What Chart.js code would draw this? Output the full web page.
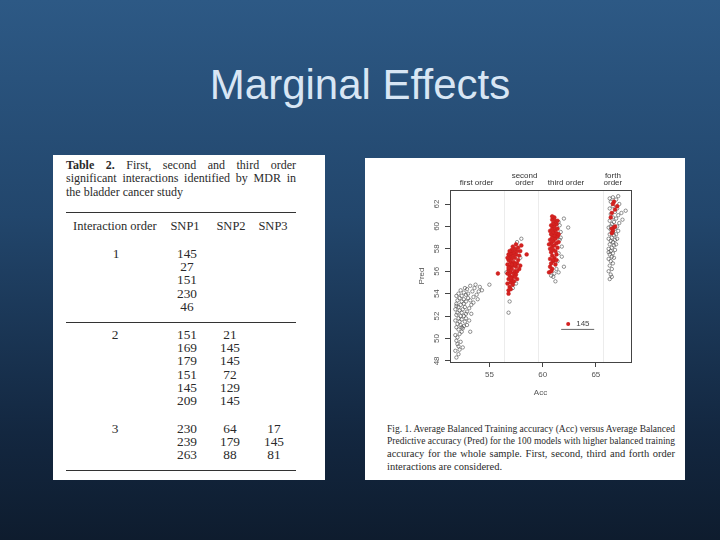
<!DOCTYPE html>
<html><head><meta charset="utf-8">
<script src="https://cdn.jsdelivr.net/npm/chart.js@4/dist/chart.umd.min.js"></script>
<style>
html,body{margin:0;padding:0;}
body{width:720px;height:540px;overflow:hidden;position:relative;
background:linear-gradient(180deg,#2d5985 0%,#22466c 40%,#132740 80%,#0e1c2e 100%);}
#title{position:absolute;left:0;width:720px;top:61px;text-align:center;color:#d8e6f4;
font-family:"Liberation Sans",Arial,sans-serif;font-size:42px;}
.panel{position:absolute;background:#fff;}
.t{position:absolute;font-family:"Liberation Serif","DejaVu Serif",serif;color:#2a2a2a;white-space:nowrap;}
.jl{position:absolute;font-family:"Liberation Serif",serif;color:#2a2a2a;white-space:nowrap;transform-origin:0 50%;}
.rule{position:absolute;background:#333;height:1px;}
</style></head><body>
<div id="title">Marginal Effects</div>
<div class="panel" style="left:53px;top:155px;width:272px;height:325px;"></div>
<div class="panel" style="left:365px;top:158px;width:320px;height:322px;"></div>
<div id="tbl"></div>
<canvas id="c" width="320" height="242" style="position:absolute;left:365px;top:158px;"></canvas>
<div id="cap"></div>
<script>
// ---------- data ----------
const orderLabels = ["first order", "second\norder", "third order", "forth\norder"];
const orderLabelAcc = [53.8, 58.3, 62.2, 66.6];
const xTickValues = [55, 60, 65];
const yTickValues = [48, 50, 52, 54, 56, 58, 60, 62];
const separatorAcc = [56.4, 59.6, 65.7];

// open black circles (models without SNP 145)
const otherAcc = [
51.9,52.1,51.8,52.2,52.0,51.9,52.3,52.0,51.8,52.2,52.4,52.1,51.9,52.5,52.3,52.0,52.6,52.2,51.8,52.4,52.7,52.1,52.9,52.3,51.9,52.6,52.0,52.8,52.4,52.2,51.8,52.5,52.9,52.1,52.7,52.3,51.9,53.1,52.6,52.0,52.4,52.8,53.3,52.2,52.6,53.0,51.9,52.4,52.8,53.2,53.5,52.1,52.6,53.0,53.4,53.8,52.3,52.9,53.6,54.0,54.3,53.2,53.7,54.1,55.0,52.7,53.5,53.9,53.1,52.5,51.9,52.8,52.1,53.3,52.4,53.2,
58.0,56.9,56.8,57.2,57.5,56.6,57.9,57.6,
62.0,62.4,61.8,62.0,61.0,61.2,61.6,61.7,61.6,61.5,61.4,61.3,60.8,61.1,61.5,61.8,61.7,61.5,
66.3,66.4,66.2,66.5,66.3,66.6,66.4,66.2,66.5,66.7,66.3,66.6,66.4,66.8,66.2,66.5,66.7,66.3,66.9,66.6,66.4,66.8,66.2,67.0,66.5,66.7,66.3,66.9,66.6,67.1,66.4,66.8,66.2,67.0,66.5,66.7,67.2,66.3,66.9,66.6,67.1,66.4,66.8,67.4,66.3,67.0,66.6,67.2,66.4,66.9,66.6,67.1,66.3,67.8,67.5,66.5,66.2,66.4];
const otherPred = [
48.3,48.6,48.9,49.0,49.5,49.8,49.7,50.1,50.3,50.4,50.6,50.8,51.0,50.9,51.2,51.3,51.1,51.5,51.6,51.7,51.5,51.8,51.2,52.0,52.1,52.0,52.3,51.8,52.3,52.5,52.6,52.6,52.4,52.8,52.8,53.0,53.1,52.7,53.1,53.4,53.3,53.3,53.0,53.6,53.5,53.6,53.8,53.8,53.9,53.4,53.7,54.0,54.1,54.0,54.2,53.9,54.3,54.4,54.5,54.2,54.3,54.7,54.8,54.6,54.8,54.5,53.2,53.5,51.6,49.2,52.9,52.2,49.3,52.2,51.0,50.6,
58.9,53.3,52.3,54.5,54.9,55.9,57.2,58.6,
60.7,59.9,58.2,56.4,55.5,55.1,60.1,59.5,58.8,57.6,56.9,56.2,55.6,55.8,55.9,57.3,59.0,60.4,
55.3,55.7,56.0,56.2,56.5,56.7,56.9,57.1,57.3,57.2,57.5,57.6,57.8,57.9,58.0,58.1,58.3,58.4,58.4,58.6,58.7,58.8,58.9,58.9,59.0,59.2,59.3,59.3,59.5,59.6,59.7,59.8,59.9,60.0,60.2,60.4,60.3,60.5,60.7,60.8,61.0,61.1,61.3,61.2,61.6,61.6,61.8,62.0,62.2,62.4,62.6,62.7,62.5,61.4,60.6,55.5,57.7,60.0];

// filled red circles (models containing SNP 145)
const snp145Acc = [
56.8,56.9,56.7,57.0,56.8,57.1,56.9,57.2,56.7,57.0,57.3,56.8,57.1,57.4,56.9,57.2,56.7,57.5,57.0,57.3,56.8,57.6,57.1,56.9,57.4,57.7,57.2,56.8,57.0,57.5,57.3,57.8,57.1,57.6,56.9,57.4,57.9,57.2,57.7,58.0,57.5,56.8,57.0,57.3,57.5,57.8,57.6,57.9,57.4,56.7,57.1,55.8,58.5,57.2,56.8,57.0,57.6,57.4,
60.6,60.7,60.9,60.8,61.0,60.7,61.1,60.9,61.3,60.8,61.0,61.2,60.7,61.4,60.9,61.1,60.8,61.3,61.0,61.5,60.7,61.2,60.9,61.4,61.1,60.8,61.0,61.3,60.7,61.2,60.9,61.4,61.1,60.8,61.3,61.0,61.2,60.9,61.4,61.1,60.9,61.0,61.2,60.8,61.5,60.6,61.3,
66.7,67.0,66.5,66.7,66.5,66.6,66.8,66.4,66.6,66.8,66.5];
const snp145Pred = [
54.3,54.6,54.9,55.0,55.3,55.2,55.6,55.5,55.8,55.9,55.8,56.1,56.2,56.0,56.4,56.5,56.6,56.4,56.8,56.8,57.0,56.7,57.1,57.3,57.2,57.0,57.4,57.5,57.6,57.5,57.7,57.4,57.9,57.8,57.8,58.0,57.8,58.2,58.1,58.3,58.4,56.3,55.4,55.1,55.7,56.2,56.0,56.5,56.6,57.2,56.6,55.8,57.5,54.8,54.0,54.4,55.3,55.5,
55.9,56.4,56.2,56.7,56.9,57.1,57.2,57.4,57.5,57.7,57.9,57.8,58.0,58.1,58.2,58.3,58.5,58.5,58.7,58.6,58.8,58.9,59.0,59.1,59.2,59.3,59.5,59.4,59.6,59.7,59.8,59.8,60.0,60.1,60.2,60.3,60.5,60.6,60.5,60.8,60.9,57.0,56.6,56.0,59.3,58.4,57.0,
62.2,61.8,61.2,59.9,59.8,59.6,60.0,60.8,62.0,61.5,59.4];

const legendLabel = "145";
const legendAcc = 62.4, legendPred = 51.3;

// table data
const tableCaption = ["Table 2.", " First, second and third order", "significant interactions identified by MDR in", "the bladder cancer study"];
const tableHeader = ["Interaction order", "SNP1", "SNP2", "SNP3"];
const order1Snp1 = ["145","27","151","230","46"];
const order2Snp1 = ["151","169","179","151","145","209"];
const order2Snp2 = ["21","145","145","72","129","145"];
const order3Snp1 = ["230","239","263"];
const order3Snp2 = ["64","179","88"];
const order3Snp3 = ["17","145","81"];

const captionLines = ["Fig. 1.  Average Balanced Training accuracy (Acc) versus Average Balanced",
 "Predictive accuracy (Pred) for the 100 models with higher balanced training",
 "accuracy for the whole sample. First, second, third and forth order",
 "interactions are considered."];

// ---------- table (HTML) ----------
const tbl = document.getElementById('tbl');
function put(txt, x, y, opts={}) {
  const d = document.createElement('div');
  d.className = 't';
  d.textContent = txt;
  d.style.fontSize = (opts.size || 11.6) + 'px';
  d.style.lineHeight = '12px';
  d.style.top = (y - 6) + 'px';
  if (opts.bold) d.style.fontWeight = 'bold';
  if (opts.center) { d.style.left = (x - 20) + 'px'; d.style.width = '40px'; d.style.textAlign = 'center'; }
  else d.style.left = x + 'px';
  if (opts.sx) { d.style.transform = 'scaleX(' + opts.sx + ')'; }
  tbl.appendChild(d);
}
// a single justified line: spread words to width w, shrink horizontally if too long
function justLine(parent, html, x, y, w, size, lh, last) {
  const d = document.createElement('div');
  d.className = 'jl';
  d.innerHTML = html;
  d.style.left = x + 'px'; d.style.top = (y - lh / 2) + 'px';
  d.style.fontSize = size + 'px'; d.style.lineHeight = lh + 'px';
  parent.appendChild(d);
  const nat = d.getBoundingClientRect().width;
  if (nat > w) { d.style.transform = 'scaleX(' + (w / nat) + ')'; }
  else if (!last) {
    const gaps = (d.textContent.match(/ +/g) || []).length;
    if (gaps) d.style.wordSpacing = ((w - nat) / gaps) + 'px';
  }
  return d;
}
justLine(tbl, '<b>' + tableCaption[0] + '</b>' + tableCaption[1], 66, 164.5, 230, 12, 12);
justLine(tbl, tableCaption[2], 66, 178, 230, 12, 12);
justLine(tbl, tableCaption[3], 66, 191.5, 230, 12, 12, true);
function rule(x, y, w) { const r = document.createElement('div'); r.className = 'rule';
  r.style.left = x + 'px'; r.style.top = y + 'px'; r.style.width = w + 'px'; tbl.appendChild(r); }
rule(66, 212, 230); rule(66, 322, 230); rule(66, 470, 230);
put(tableHeader[0], 73, 226, {size: 12.5});
put(tableHeader[1], 185, 226, {size: 12.5, center: true});
put(tableHeader[2], 231, 226, {size: 12.5, center: true});
put(tableHeader[3], 273, 226, {size: 12.5, center: true});
const colX = [187, 230, 274], rowH = 13.2;
const numOpts = {center: true, sx: 1.15};
put("1", 116, 255, numOpts);
order1Snp1.forEach((v, i) => put(v, colX[0], 255 + i * rowH, numOpts));
put("2", 115, 336, numOpts);
order2Snp1.forEach((v, i) => put(v, colX[0], 336 + i * rowH, numOpts));
order2Snp2.forEach((v, i) => put(v, colX[1], 336 + i * rowH, numOpts));
put("3", 115, 430, numOpts);
order3Snp1.forEach((v, i) => put(v, colX[0], 430 + i * rowH, numOpts));
order3Snp2.forEach((v, i) => put(v, colX[1], 430 + i * rowH, numOpts));
order3Snp3.forEach((v, i) => put(v, colX[2], 430 + i * rowH, numOpts));

// caption
const cap = document.getElementById('cap');
captionLines.forEach((l, i) => justLine(cap, l, 387, 428 + i * 12.7, 288, 10.5, 11, i === captionLines.length - 1));

// ---------- chart ----------
const rPlot = {
  id: 'rPlot',
  beforeDatasetsDraw(chart) {
    const {ctx, chartArea: a, scales: {x, y}} = chart;
    ctx.save();
    ctx.strokeStyle = '#ececec'; ctx.lineWidth = 1;
    separatorAcc.forEach(v => { const px = Math.round(x.getPixelForValue(v)) + 0.5;
      ctx.beginPath(); ctx.moveTo(px, a.top); ctx.lineTo(px, a.bottom); ctx.stroke(); });
    ctx.restore();
  },
  afterDraw(chart) {
    const {ctx, chartArea: a, scales: {x, y}} = chart;
    ctx.save();
    ctx.strokeStyle = '#444'; ctx.lineWidth = 1;
    ctx.strokeRect(Math.round(a.left) + 0.5, Math.round(a.top) + 0.5, Math.round(a.right - a.left), Math.round(a.bottom - a.top));
    ctx.fillStyle = '#555';
    ctx.font = '8px "Liberation Sans", Arial, sans-serif';
    ctx.textAlign = 'center'; ctx.textBaseline = 'middle';
    yTickValues.forEach(v => { ctx.save(); ctx.translate(a.left - 13, y.getPixelForValue(v));
      ctx.rotate(-Math.PI / 2); ctx.fillText(String(v), 0, 0); ctx.restore(); });
    ctx.save(); ctx.translate(a.left - 28, (a.top + a.bottom) / 2); ctx.rotate(-Math.PI / 2);
    ctx.fillText('Pred', 0, 0); ctx.restore();
    ctx.fillText('Acc', (a.left + a.right) / 2, a.bottom + 31);
    ctx.fillStyle = '#333';
    orderLabels.forEach((t, i) => { const lines = t.split('\n'); const px = x.getPixelForValue(orderLabelAcc[i]);
      lines.forEach((l, j) => ctx.fillText(l, px, a.top - 7 - (lines.length - 1 - j) * 7)); });
    // legend
    const lx = x.getPixelForValue(legendAcc), ly = y.getPixelForValue(legendPred);
    ctx.fillStyle = '#d42020'; ctx.beginPath(); ctx.arc(lx, ly, 2, 0, Math.PI * 2); ctx.fill();
    ctx.fillStyle = '#444'; ctx.textAlign = 'left'; ctx.fillText(legendLabel, lx + 8, ly);
    ctx.strokeStyle = '#666'; ctx.beginPath(); ctx.moveTo(lx - 7, ly + 5.5); ctx.lineTo(lx + 26, ly + 5.5); ctx.stroke();
    ctx.restore();
  }
};
const toPts = (xs, ys) => xs.map((v, i) => ({x: v, y: ys[i]}));
new Chart(document.getElementById('c'), {
  type: 'scatter',
  data: { datasets: [
    { label: '145', data: toPts(snp145Acc, snp145Pred), backgroundColor: '#d52220', borderColor: '#c41a18', borderWidth: 0.5, pointRadius: 1.9 },
    { label: 'other', data: toPts(otherAcc, otherPred), backgroundColor: 'rgba(0,0,0,0)', borderColor: '#4a4a4a', borderWidth: 0.6, pointRadius: 1.7 }
  ]},
  options: {
    responsive: false, animation: false, devicePixelRatio: 1,
    layout: { padding: { left: 55, right: 54, top: 32, bottom: 8 } },
    plugins: { legend: { display: false }, tooltip: { enabled: false } },
    scales: {
      x: { type: 'linear', min: 51.3, max: 68.3,
        afterBuildTicks: s => { s.ticks = xTickValues.map(v => ({value: v})); },
        afterFit: s => { s.height = 30; },
        grid: { drawOnChartArea: false, drawTicks: true, tickLength: 5, color: '#444' },
        border: { display: false },
        ticks: { color: '#555', font: { size: 8, family: '"Liberation Sans", Arial, sans-serif' }, padding: 3, maxRotation: 0 } },
      y: { type: 'linear', min: 47.9, max: 63.25,
        afterBuildTicks: s => { s.ticks = yTickValues.map(v => ({value: v})); },
        afterFit: s => { s.width = 30; },
        grid: { drawOnChartArea: false, drawTicks: true, tickLength: 5, color: '#444' },
        border: { display: false },
        ticks: { callback: () => '', padding: 0 } }
    }
  },
  plugins: [rPlot]
});
</script>
</body></html>
